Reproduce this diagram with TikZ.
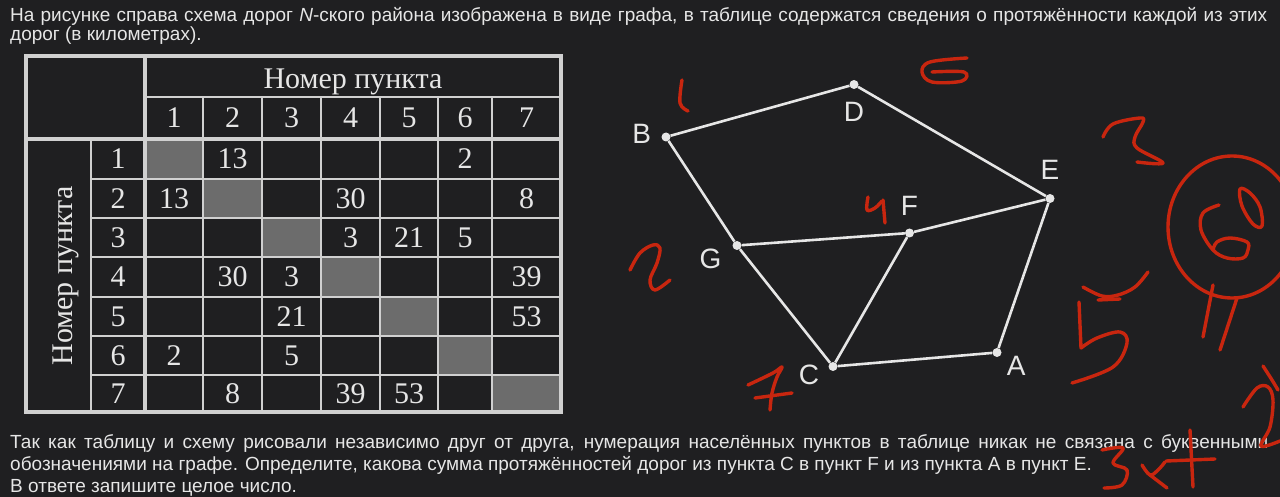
\documentclass[tikz,border=0pt]{standalone}
\usepackage{fontspec}
\setmainfont{Liberation Sans}
\newfontfamily\tabfont{Liberation Serif}
\usetikzlibrary{positioning}
\definecolor{bgdark}{HTML}{1F1F21}
\definecolor{textgray}{HTML}{E6E6E6}
\definecolor{gridgray}{HTML}{D0D0D0}
\definecolor{cellgray}{HTML}{6C6C6C}
\definecolor{pastelred}{HTML}{C8260F}

\begin{document}
\begin{tikzpicture}[
    x=1pt, y=-1pt,
    txt/.style={anchor=base west, inner sep=0pt, text=textgray, font=\fontsize{19}{22}\selectfont},
    num/.style={text=textgray, inner sep=0pt, font=\tabfont\fontsize{30}{30}\selectfont},
    grid/.style={draw=gridgray, line width=1.6pt},
    thickgrid/.style={draw=gridgray, line width=3.2pt},
    diagcell/.style={fill=cellgray},
    road/.style={draw=textgray, line width=2.6pt},
    town/.style={circle, fill=textgray, inner sep=0pt, minimum size=9pt},
    lbl/.style={text=textgray, inner sep=0pt, font=\fontsize{28}{28}\selectfont},
    pen/.style={draw=pastelred, line width=3.4pt, line cap=round, line join=round},
]
\fill[bgdark] (0,0) rectangle (1280,497);
\useasboundingbox (0,0) rectangle (1280,497);

% task text, top
\node[txt] (intro1) at (10,22) {\makebox[1257pt][s]{На рисунке справа схема дорог \textit{N}-ского района изображена в виде графа, в таблице содержатся сведения о протяжённости каждой из этих}};
\node[txt] (intro2) at (10,41) {дорог (в километрах).};

% table: diagonal cells
\fill[diagcell] (146,140) rectangle (202,178);
\fill[diagcell] (204,180) rectangle (261,217);
\fill[diagcell] (263,219) rectangle (320,256);
\fill[diagcell] (322,258) rectangle (379,296);
\fill[diagcell] (381,298) rectangle (437,335);
\fill[diagcell] (439,337) rectangle (491,374);
\fill[diagcell] (493,376) rectangle (560,411);

% table: grid
\draw[grid] (145,97) -- (561,97);
\draw[grid] (203,97) -- (203,412) (262,97) -- (262,412) (321,97) -- (321,412)
            (380,97) -- (380,412) (438,97) -- (438,412) (492,97) -- (492,412);
\draw[grid] (91,139) -- (91,412);
\draw[grid] (91,179) -- (561,179) (91,218) -- (561,218) (91,257) -- (561,257)
            (91,297) -- (561,297) (91,336) -- (561,336) (91,375) -- (561,375);
\draw[thickgrid] (145,56) -- (145,412);
\draw[thickgrid] (26,139) -- (561,139);
\draw[thickgrid] (26,56) rectangle (561,412);

% table: headers
\node[num, anchor=base] (colhead) at (353,89) {Номер пункта};
\node[num, anchor=base, rotate=90] (rowhead) at (72,276) {Номер пункта};
\node[num] (c1) at (174,118) {1};
\node[num] (c2) at (232.5,118) {2};
\node[num] (c3) at (291.5,118) {3};
\node[num] (c4) at (350.5,118) {4};
\node[num] (c5) at (409,118) {5};
\node[num] (c6) at (465,118) {6};
\node[num] (c7) at (526.5,118) {7};
\node[num] (r1) at (118,159) {1};
\node[num] (r2) at (118,198.5) {2};
\node[num] (r3) at (118,237.5) {3};
\node[num] (r4) at (118,277) {4};
\node[num] (r5) at (118,316.5) {5};
\node[num] (r6) at (118,355.5) {6};
\node[num] (r7) at (118,393.5) {7};

% table: road lengths
\node[num] (r1c2) at (232.5,159) {13};
\node[num] (r1c6) at (465,159) {2};
\node[num] (r2c1) at (174,198.5) {13};
\node[num] (r2c4) at (350.5,198.5) {30};
\node[num] (r2c7) at (526.5,198.5) {8};
\node[num] (r3c4) at (350.5,237.5) {3};
\node[num] (r3c5) at (409,237.5) {21};
\node[num] (r3c6) at (465,237.5) {5};
\node[num] (r4c2) at (232.5,277) {30};
\node[num] (r4c3) at (291.5,277) {3};
\node[num] (r4c7) at (526.5,277) {39};
\node[num] (r5c3) at (291.5,316.5) {21};
\node[num] (r5c7) at (526.5,316.5) {53};
\node[num] (r6c1) at (174,355.5) {2};
\node[num] (r6c3) at (291.5,355.5) {5};
\node[num] (r7c2) at (232.5,393.5) {8};
\node[num] (r7c4) at (350.5,393.5) {39};
\node[num] (r7c5) at (409,393.5) {53};

% graph
\node[town] (B) at (666,137) {};
\node[town] (D) at (854,84.5) {};
\node[town] (E) at (1050,198.5) {};
\node[town] (F) at (909.5,233) {};
\node[town] (G) at (737,245.5) {};
\node[town] (C) at (833,366.5) {};
\node[town] (A) at (997,352.5) {};

\node[lbl, left=10pt of B, yshift=3pt] (labB) {B};
\node[lbl, below=13pt of D] (labD) {D};
\node[lbl, above=14pt of E] (labE) {E};
\node[lbl, above=13pt of F] (labF) {F};
\node[lbl, below left=0pt and 12pt of G] (labG) {G};
\node[lbl, left=9pt of C, yshift=-8.5pt] (labC) {C};
\node[lbl, right=5pt of A, yshift=-13pt] (labA) {A};

\draw[road] (B) -- (D);
\draw[road] (D) -- (E);
\draw[road] (B) -- (G);
\draw[road] (G) -- (F);
\draw[road] (F) -- (E);
\draw[road] (G) -- (C);
\draw[road] (C) -- (F);
\draw[road] (C) -- (A);
\draw[road] (A) -- (E);

% task text, bottom
\node[txt] (task1) at (10,448) {\makebox[1258pt][s]{Так как таблицу и схему рисовали независимо друг от друга, нумерация населённых пунктов в таблице никак не связана с буквенными}};
\node[txt] (task2) at (10,470) {обозначениями на графе. Определите, какова сумма протяжённостей дорог из пункта C в пункт F и из пункта A в пункт E.};
\node[txt] (task3) at (10,492) {В ответе запишите целое число.};

% handwritten marks
\begin{scope}
\clip (0,0) rectangle (1280,497);
\draw[pen] plot[smooth, tension=0.6] coordinates {(682,80) (680,103) (688,111)};
\draw[pen] plot[smooth, tension=0.6] coordinates {(967,58) (930,62) (922,72) (932,82) (962,81) (964,72) (932,72)};
\draw[pen] plot[smooth, tension=0.6] coordinates {(868,197) (867,210) (875,208) (882,201)};
\draw[pen] (883,200) -- (885,223);
\draw[pen] plot[smooth, tension=0.6] coordinates {(630,270) (640,253) (653,245) (660,248) (657,263) (650,280) (655,290) (670,280)};
\draw[pen] plot[smooth, tension=0.6] coordinates {(748,385) (773,373) (782,367) (777,377) (772,393) (770,410)};
\draw[pen] (755,398) -- (792,393);
\draw[pen] plot[smooth, tension=0.6] coordinates {(1103,137) (1113,124) (1140,118) (1143,122) (1135,137) (1137,148) (1163,163) (1137,162)};
\draw[pen] (1232,227) ellipse[x radius=64, y radius=71];
\draw[pen] plot[smooth, tension=0.6] coordinates {(1219,205) (1203,213) (1201,230) (1213,250) (1227,258) (1243,258) (1248,250) (1247,242) (1230,238) (1217,242) (1213,250)};
\draw[pen] plot[smooth cycle, tension=0.6] coordinates {(1240,189) (1250,193) (1260,207) (1262,226) (1253,224) (1242,206)};
\draw[pen] (1213,285) -- (1203,337);
\draw[pen] (1237,298) -- (1220,350);
\draw[pen] plot[smooth, tension=0.6] coordinates {(1083,287) (1102,296) (1118,295) (1135,287) (1148,272)};
\draw[pen] (1098,300) -- (1120,299);
\draw[pen] (1079,302) -- (1081,348);
\draw[pen] plot[smooth, tension=0.6] coordinates {(1081,348) (1097,338) (1120,332) (1127,343) (1113,367) (1072,383)};
\draw[pen] plot[smooth, tension=0.6] coordinates {(1263,366) (1272,380) (1278,390)};
\draw[pen] plot[smooth, tension=0.6] coordinates {(1243,407) (1257,388) (1268,387) (1273,400) (1270,427) (1261,446) (1280,441)};
\draw[pen] plot[smooth, tension=0.6] coordinates {(1102,450) (1123,448) (1113,463) (1127,470) (1122,485) (1104,488)};
\draw[pen] plot[smooth, tension=0.6] coordinates {(1142,465) (1150,475) (1158,470) (1165,462)};
\draw[pen] (1150,475) -- (1167,488);
\draw[pen] (1190,430) -- (1193,487);
\draw[pen] (1166,461) -- (1215,459);
\end{scope}
\end{tikzpicture}
\end{document}
